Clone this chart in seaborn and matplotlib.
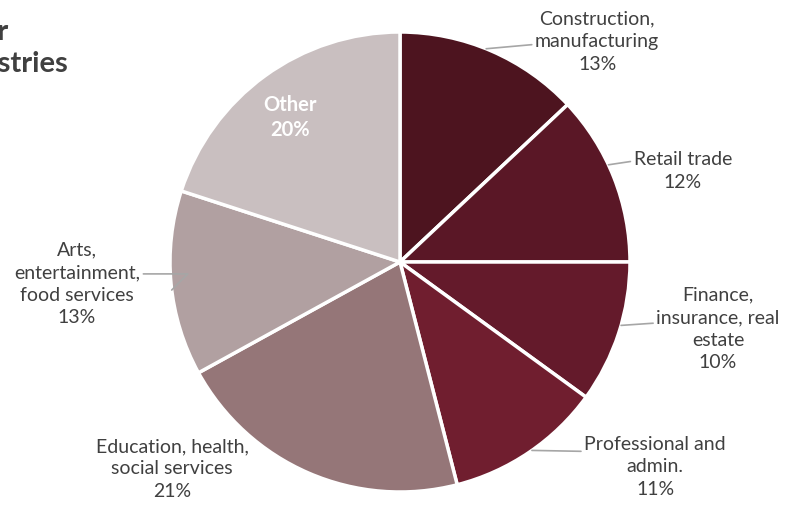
import matplotlib.pyplot as plt
import numpy as np
import seaborn as sns

# data
sectors = ["Construction,\nmanufacturing", "Retail trade", "Finance,\ninsurance, real\nestate",
           "Professional and\nadmin.", "Education, health,\nsocial services",
           "Arts,\nentertainment,\nfood services", "Other"]
shares = [13, 12, 10, 11, 21, 13, 20]
colors = ["#4D141F", "#5A1726", "#641A2B", "#701E2F", "#957678", "#B1A0A1", "#C9BFC0"]

# label layout (data coords, pie radius = 1)
label_xy = [(0.857, 0.957), (1.230, 0.396), (1.383, -0.291), (1.109, -0.891),
            (-0.991, -0.900), (-1.404, -0.096), (-0.478, 0.630)]
anchor_deg = [68, 25, -16, -55, None, 187, None]
relpos = [(0, 0.46), (0, 0.75), (0, 0.57), (0, 0.75), None, (1, 0.62), None]

sns.set_theme(style="white")
plt.rcParams['font.family'] = ['Lato', 'DejaVu Sans']

fig = plt.figure(figsize=(7.96, 5.05), dpi=100)
ax = fig.add_axes([170 / 796, 13 / 505, 460 / 796, 460 / 505])

ax.pie(shares, colors=colors, startangle=90, counterclock=False,
       wedgeprops=dict(edgecolor="white", linewidth=2.5))
ax.set_xlim(-1, 1)
ax.set_ylim(-1, 1)
ax.axis("off")

text_col = "#404040"
fs = 14
ls = 1.4
for i, (name, pct) in enumerate(zip(sectors, shares)):
    tx, ty = label_xy[i]
    if name == "Other":
        ax.text(tx, ty, f"{name}\n{pct}%", ha="center", va="center", color="white",
                fontsize=14.5, fontweight="bold", linespacing=1.3)
        continue
    if anchor_deg[i] is None:
        ax.text(tx, ty, f"{name}\n{pct}%", ha="center", va="center", color=text_col,
                fontsize=fs, linespacing=ls)
        continue
    a = np.deg2rad(anchor_deg[i])
    conn = "angle,angleA=0,angleB=45,rad=0" if i == 5 else "arc3"
    ax.annotate(f"{name}\n{pct}%", xy=(np.cos(a), np.sin(a)), xytext=(tx, ty),
                ha="center", va="center", color=text_col, fontsize=fs, linespacing=ls,
                arrowprops=dict(arrowstyle="-", color="#A6A6A6", lw=1.2,
                                relpos=relpos[i], shrinkA=0, shrinkB=0,
                                connectionstyle=conn))

# title, cut off at the left edge as in the reference
fig.text(8 / 796, 1 - 40 / 505, "Employment by major", ha="right", va="baseline",
         fontsize=21, fontweight="bold", color=text_col)
fig.text(68 / 796, 1 - 72 / 505, "industries", ha="right", va="baseline",
         fontsize=21, fontweight="bold", color=text_col)

fig.savefig("out.png", dpi=100)
